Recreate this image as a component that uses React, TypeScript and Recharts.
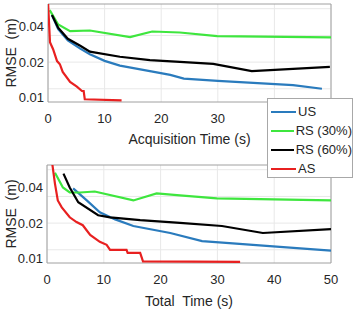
import React from 'react';
import {
  LineChart,
  Line,
  XAxis,
  YAxis,
  CartesianGrid,
  ReferenceArea
} from 'recharts';

type Pt = { t: number; v: number };

// RMSE vs acquisition time
const acqUS: Pt[] = [
  { t: 0.7, v: 0.05 }, { t: 1.8, v: 0.038 }, { t: 3.5, v: 0.0305 }, { t: 5.7, v: 0.026 },
  { t: 7.4, v: 0.0233 }, { t: 10, v: 0.0205 }, { t: 12.7, v: 0.0187 }, { t: 18, v: 0.0168 },
  { t: 21.6, v: 0.0156 }, { t: 24, v: 0.0145 }, { t: 30, v: 0.0139 }, { t: 43.3, v: 0.0128 },
  { t: 48.4, v: 0.0119 }
];
const acqRS30: Pt[] = [
  { t: 0.3, v: 0.055 }, { t: 1.8, v: 0.0416 }, { t: 3.9, v: 0.0365 }, { t: 7.4, v: 0.037 },
  { t: 14.5, v: 0.0326 }, { t: 18.4, v: 0.0363 }, { t: 23.3, v: 0.0356 }, { t: 29.9, v: 0.0332 },
  { t: 50, v: 0.0324 }
];
const acqRS60: Pt[] = [
  { t: 0.7, v: 0.05 }, { t: 1.8, v: 0.039 }, { t: 3.5, v: 0.0315 }, { t: 5.7, v: 0.0275 },
  { t: 7.4, v: 0.0245 }, { t: 12.7, v: 0.0222 }, { t: 18, v: 0.0208 }, { t: 23.3, v: 0.0201 },
  { t: 29.2, v: 0.0193 }, { t: 36, v: 0.0168 }, { t: 49.8, v: 0.0182 }
];
const acqAS: Pt[] = [
  { t: 0, v: 0.065 }, { t: 0.35, v: 0.0294 }, { t: 0.9, v: 0.0257 }, { t: 1.6, v: 0.0204 },
  { t: 2.1, v: 0.0192 }, { t: 2.6, v: 0.0165 }, { t: 3.9, v: 0.0136 }, { t: 5.1, v: 0.0124 },
  { t: 6.0, v: 0.0114 }, { t: 6.3, v: 0.0114 }, { t: 6.5, v: 0.0097 }, { t: 13, v: 0.0095 }
];

// RMSE vs total time
const totUS: Pt[] = [
  { t: 4.6, v: 0.0393 }, { t: 7, v: 0.0311 }, { t: 9.3, v: 0.0247 }, { t: 12, v: 0.0215 },
  { t: 15.2, v: 0.0189 }, { t: 21.7, v: 0.0165 }, { t: 27.3, v: 0.0141 }, { t: 32.7, v: 0.0135 },
  { t: 41, v: 0.0126 }, { t: 50, v: 0.0117 }
];
const totRS30: Pt[] = [
  { t: 1.4, v: 0.0534 }, { t: 2.8, v: 0.04 }, { t: 4, v: 0.0363 }, { t: 5.8, v: 0.0363 },
  { t: 8.4, v: 0.037 }, { t: 15.2, v: 0.0311 }, { t: 19.3, v: 0.0357 }, { t: 23.4, v: 0.0343 },
  { t: 29.9, v: 0.0324 }, { t: 50, v: 0.0311 }
];
const totRS60: Pt[] = [
  { t: 2.9, v: 0.0524 }, { t: 4, v: 0.04 }, { t: 5.5, v: 0.03 }, { t: 9, v: 0.0233 },
  { t: 11.1, v: 0.0224 }, { t: 16.4, v: 0.0212 }, { t: 23.4, v: 0.0201 }, { t: 30.8, v: 0.0189 },
  { t: 38, v: 0.0165 }, { t: 50, v: 0.0178 }
];
const totAS: Pt[] = [
  { t: 0.9, v: 0.065 }, { t: 1.4, v: 0.0432 }, { t: 1.9, v: 0.0311 }, { t: 2.6, v: 0.0272 },
  { t: 4, v: 0.0224 }, { t: 5.2, v: 0.0204 }, { t: 6.3, v: 0.0192 }, { t: 7.6, v: 0.0159 },
  { t: 9.3, v: 0.0139 }, { t: 10.5, v: 0.0131 }, { t: 11.1, v: 0.0119 }, { t: 14, v: 0.0119 },
  { t: 14.2, v: 0.0112 }, { t: 16.4, v: 0.0112 }, { t: 16.9, v: 0.0095 }, { t: 34, v: 0.0094 }
];

const xTicks = [0, 10, 20, 30, 40, 50];
const yTicks = [0.01, 0.02, 0.04];
const yMinorGrid = [0.01, 0.0119, 0.0141, 0.0168, 0.02, 0.0238, 0.0283, 0.0336, 0.04, 0.0476, 0.0566];
const yDomain: [number, number] = [0.0092, 0.062];

const seriesNames = ['US', 'RS (30%)', 'RS (60%)', 'AS'];
const seriesColors = ['#2a7bbd', '#3ee63e', '#000000', '#e82020'];

const FONT = '"Liberation Sans", Arial, sans-serif';
const TEXT = '#262626';

const YTitle = (props: any) => {
  const vb = props.viewBox || {};
  const cy = vb.y + vb.height / 2;
  return (
    <text
      x={11}
      y={cy}
      transform={`rotate(-90, 11, ${cy})`}
      textAnchor="middle"
      dominantBaseline="central"
      fontFamily={FONT}
      fontSize={14}
      fill={TEXT}
      style={{ whiteSpace: 'pre' }}
    >
      {'RMSE  (m)'}
    </text>
  );
};

// legend shared by both panels, sits over the corner where they meet
const LegendBox = () => (
  <div
    style={{
      position: 'absolute',
      left: 267,
      top: 98,
      width: 86,
      height: 80,
      zIndex: 10,
      background: '#fff',
      border: '1px solid #a8a8a8',
      boxSizing: 'border-box',
      padding: '3px 0 0 3px',
      fontFamily: FONT,
      fontSize: 13,
      color: TEXT,
      whiteSpace: 'nowrap'
    }}
  >
    {seriesNames.map((n, i) => (
      <div key={n} style={{ display: 'flex', alignItems: 'center', height: 19 }}>
        <span style={{ display: 'inline-block', width: 25, height: 2, background: seriesColors[i], marginRight: 2 }} />
        <span>{n}</span>
      </div>
    ))}
  </div>
);

interface PanelProps {
  us: Pt[];
  rs30: Pt[];
  rs60: Pt[];
  as: Pt[];
  title: string;
  height: number;
  margin: { top: number; right: number; bottom: number; left: number };
  axisHeight: number;
  maxTickLabel?: number;
}

const Panel: React.FC<PanelProps> = ({ us, rs30, rs60, as, title, height, margin, axisHeight, maxTickLabel = 50 }) => {
  const sets = [us, rs30, rs60, as];
  return (
    <LineChart width={358} height={height} margin={margin}>
      <CartesianGrid
        stroke="#e8e8e8"
        horizontalValues={yMinorGrid}
        verticalValues={xTicks}
      />
      <XAxis
        type="number"
        dataKey="t"
        domain={[0, 50]}
        ticks={xTicks}
        allowDataOverflow
        axisLine={false}
        tickLine={false}
        tickSize={0}
        tickMargin={12}
        height={axisHeight}
        tick={{ fontSize: 13, fill: TEXT, fontFamily: FONT }}
        tickFormatter={(v: number) => (v <= maxTickLabel ? String(v) : '')}
        label={{ value: title, position: 'insideBottom', offset: 0, fontSize: 14, fill: TEXT, fontFamily: FONT }}
      />
      <YAxis
        type="number"
        scale="log"
        domain={yDomain}
        ticks={yTicks}
        allowDataOverflow
        axisLine={false}
        tickLine={false}
        tickSize={0}
        tickMargin={4}
        width={40}
        tick={{ fontSize: 13, fill: TEXT, fontFamily: FONT }}
        tickFormatter={(v: number) => v.toFixed(2)}
        label={<YTitle />}
      />
      <ReferenceArea
        x1={0}
        x2={50}
        y1={yDomain[0]}
        y2={yDomain[1]}
        fill="none"
        stroke="#a0a0a0"
        strokeWidth={1}
        ifOverflow="visible"
      />
      {sets.map((d, i) => (
        <Line
          key={seriesNames[i]}
          data={d}
          dataKey="v"
          name={seriesNames[i]}
          type="linear"
          stroke={seriesColors[i]}
          strokeWidth={2.2}
          dot={false}
          isAnimationActive={false}
        />
      ))}
    </LineChart>
  );
};

export default function App() {
  return (
    <div style={{ position: 'absolute', left: 0, top: 0, width: 358, height: 309, background: '#fff' }}>
      <div style={{ position: 'absolute', left: 0, top: 0 }}>
        <Panel
          us={acqUS}
          rs30={acqRS30}
          rs60={acqRS60}
          as={acqAS}
          title="Acquisition Time (s)"
          height={150}
          margin={{ top: 4, right: 27, bottom: 6, left: 8 }}
          axisHeight={42}
          maxTickLabel={30}
        />
      </div>
      <div style={{ position: 'absolute', left: 0, top: 150 }}>
        <Panel
          us={totUS}
          rs30={totRS30}
          rs60={totRS60}
          as={totAS}
          title={'Total\u00A0 Time (s)'}
          height={159}
          margin={{ top: 15, right: 27, bottom: 3, left: 7 }}
          axisHeight={43}
        />
      </div>
      <LegendBox />
    </div>
  );
}
